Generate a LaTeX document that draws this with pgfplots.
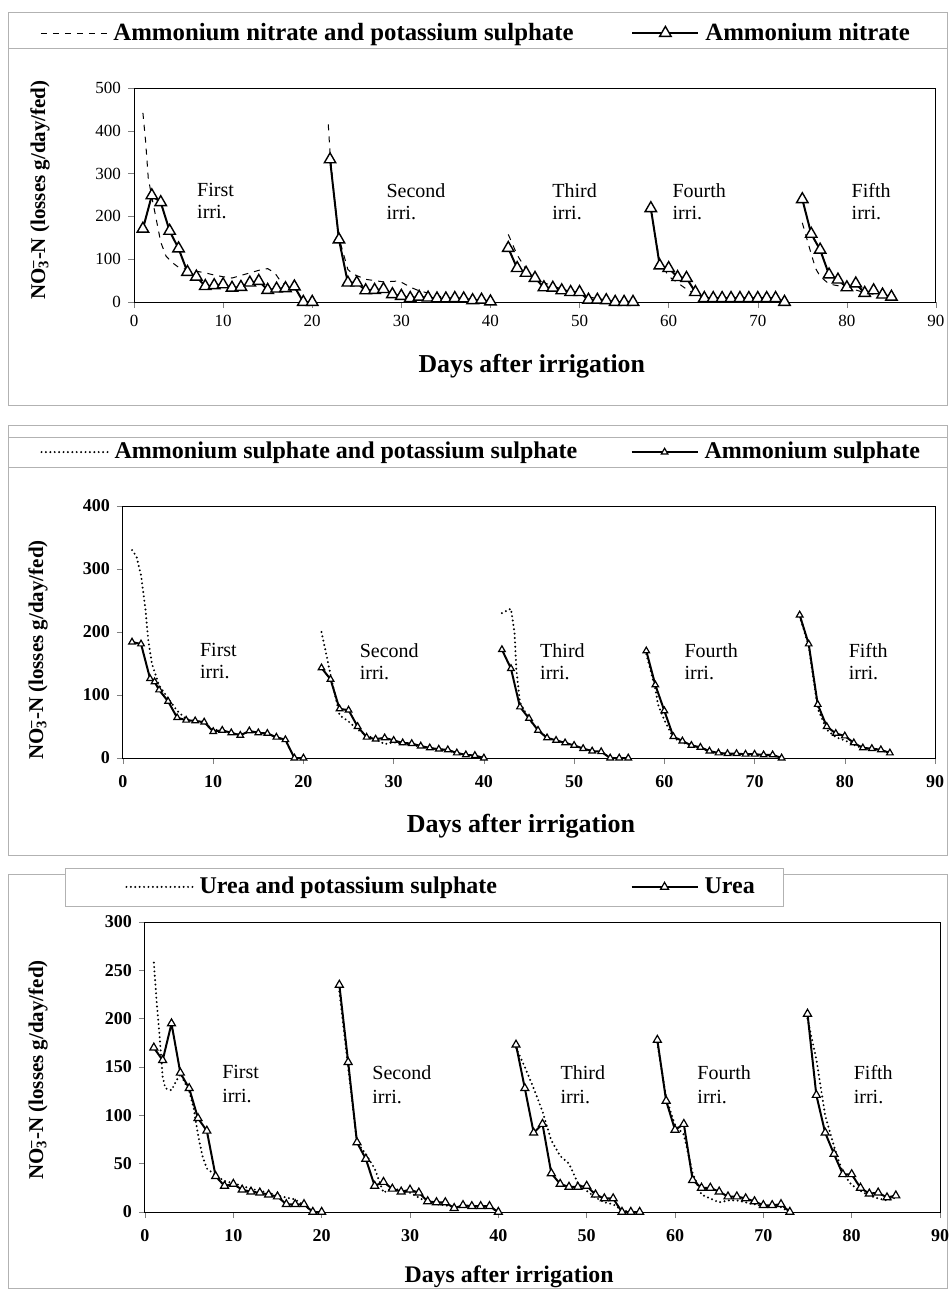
\documentclass[border=0pt]{standalone}
\usepackage{fontspec}
\setmainfont{Liberation Serif}
\usepackage{pgfplots}
\pgfplotsset{compat=1.18}
\pgfplotsset{panel/.style={scale only axis, anchor=south west, xmin=0, xmax=90,
  xtick={0,10,...,90}, tick align=outside, xtick pos=left, ytick pos=left,
  major tick length=3pt, axis line style={line width=0.5pt},
  /pgf/number format/assume math mode=true, unbounded coords=jump, clip=false,
  legend cell align=left,
  legend style={draw=none, fill=none, anchor=west, legend columns=2, inner sep=0pt,
    nodes={inner sep=0pt}, /tikz/every even column/.append style={column sep=0pt}},
  legend image code/.code={\draw[##1, mark repeat=2, mark phase=2] plot coordinates {(0pt,0pt) (16.5pt,0pt) (33pt,0pt)};},
  }}
\tikzset{ann/.style={anchor=north west, align=left, inner sep=0pt, font=\fontsize{10}{11}\selectfont},
  annc/.style={anchor=north west, align=left, inner sep=0pt, font=\fontsize{10}{12}\selectfont}}
\newcommand{\nolabel}{NO\rlap{\textsuperscript{--}}\textsubscript{3}-N (losses g/day/fed)}
\begin{document}
\begin{tikzpicture}
\path[use as bounding box] (0pt,0pt) rectangle (475pt,-645pt);
% panel frames
\draw[gray!60, line width=0.4pt] (4pt,-6pt) rectangle (473.5pt,-202.5pt);
\draw[gray!60, line width=0.4pt] (4pt,-24pt) -- (473.5pt,-24pt);
\draw[gray!60, line width=0.4pt] (4pt,-212.5pt) rectangle (473.5pt,-427.5pt);
\draw[gray!60, line width=0.4pt] (4pt,-218.5pt) -- (473.5pt,-218.5pt);
\draw[gray!60, line width=0.4pt] (4pt,-233.5pt) -- (473.5pt,-233.5pt);
\draw[gray!60, line width=0.4pt] (4pt,-437pt) rectangle (473.5pt,-644pt);
\draw[gray!60, line width=0.4pt, fill=white] (32.5pt,-434pt) rectangle (391.5pt,-453pt);

% ---------------- Panel 1 ----------------
\begin{axis}[panel, at={(67pt,-151pt)}, width=401pt, height=107pt,
  ymin=0, ymax=500, ytick={0,100,...,500},
  tick label style={font=\fontsize{8.5}{10}\selectfont},
  xlabel={Days after irrigation},
  xlabel style={font=\bfseries\fontsize{12.9}{14}\selectfont, at={(axis description cs:0.496,-0.299)}, anchor=center},
  ylabel={\nolabel},
  ylabel style={font=\bfseries\fontsize{10.5}{12}\selectfont, at={(axis description cs:-0.1172,0.523)}, anchor=center},
  legend style={at={(axis description cs:-0.1172,1.257)}, font=\bfseries\fontsize{12.4}{14}\selectfont},
]
\addplot[black, line width=0.5pt, dash pattern=on 3pt off 3pt] coordinates {
(1,442) (1.3,376) (1.6,290) (2,245) (2.5,193) (3,140) (3.6,107) (4.3,92) (5,81) (6,76) (7,72) (8,68) (9,63) (10,59) (11,56) (12,62) (13,68) (14,74) (15,78) (15.8,68) (16.4,50) (17,38) (18,36) (19,0) (20,0)
(21,nan)
(21.8,415) (22,349) (22.5,240) (23,150) (24,76) (24.6,65) (26,53) (28,47) (29.7,49) (30.1,45) (31.2,33) (32,26) (33.6,18) (35,9) (36,8) (37,7) (38,5) (39,4) (40,2)
(41,nan)
(42,158) (43,110) (44,76) (45,60) (46,45) (47,38) (48,30) (49,25) (50,20) (51,12) (52,8) (53,5) (54,3) (55,2) (56,1)
(57,nan)
(58,215) (59,95) (60,60) (61,45) (62,30) (63,18) (64,10) (65,8) (66,7) (67,7) (68,6) (69,6) (70,5) (71,5) (72,4) (73,2)
(74,nan)
(75,185) (76,112) (76.5,78) (77,60) (78,42) (79,38) (80,33) (81,28) (82,22) (83,18) (84,14) (85,12)
};
\addlegendentry{\hspace*{3pt}\makebox[259pt][l]{Ammonium nitrate and potassium sulphate}}
\addplot[black, line width=1pt, mark=triangle*, mark size=3.3pt, mark options={solid, fill=white, line width=0.7pt}] coordinates {
(1,171) (2,249) (3,233) (4,166) (5,125) (6,70) (7,59) (8,37) (9,39) (10,41) (11,33) (12,35) (13,45) (14,49) (15,28) (16,31) (17,32) (18,36) (19,0) (20,0)
(21,nan)
(22,333) (23,146) (24,45) (25,45) (26,27) (27,28) (28,30) (29,18) (30,14) (31,9) (32,12) (33,10) (34,8) (35,8) (36,9) (37,8) (38,4) (39,5) (40,1)
(41,nan)
(42,126) (43,79) (44,68) (45,56) (46,34) (47,33) (48,27) (49,23) (50,23) (51,5) (52,5) (53,4) (54,0) (55,0) (56,0)
(57,nan)
(58,219) (59,85) (60,79) (61,58) (62,56) (63,23) (64,9) (65,9) (66,9) (67,9) (68,9) (69,9) (70,9) (71,9) (72,9) (73,0)
(74,nan)
(75,240) (76,159) (77,122) (78,64) (79,52) (80,34) (81,43) (82,21) (83,27) (84,17) (85,12)
};
\addlegendentry{\hspace*{3pt}Ammonium nitrate}
\node[ann] at (axis cs:7.05,278) {First\\irri.};
\node[ann] at (axis cs:28.3,278) {Second\\irri.};
\node[ann] at (axis cs:46.9,278) {Third\\irri.};
\node[ann] at (axis cs:60.4,278) {Fourth\\irri.};
\node[ann] at (axis cs:80.5,278) {Fifth\\irri.};
\end{axis}

% ---------------- Panel 2 ----------------
\begin{axis}[panel, at={(61.5pt,-379pt)}, width=406pt, height=126pt,
  ymin=0, ymax=400, ytick={0,100,...,400},
  tick label style={font=\bfseries\fontsize{9}{10}\selectfont},
  xticklabel style={yshift=-2pt},
  xlabel={Days after irrigation},
  xlabel style={font=\bfseries\fontsize{13}{14}\selectfont, at={(axis description cs:0.490,-0.270)}, anchor=center},
  ylabel={\nolabel},
  ylabel style={font=\bfseries\fontsize{10.5}{12}\selectfont, at={(axis description cs:-0.1047,0.4286)}, anchor=center},
  legend style={at={(axis description cs:-0.1022,1.214)}, font=\bfseries\fontsize{12}{14}\selectfont},
]
\addplot[black, line width=1.1pt, dash pattern=on 0pt off 2.2pt, line cap=round] coordinates {
(1,330) (1.5,320) (2,290) (2.5,235) (2.8,187) (3.2,150) (4,115) (5,95) (6,75) (7,62) (8,58) (9,56) (10,45) (11,44) (12,40) (13,37) (14,42) (15,40) (16,38) (17,33) (18,28) (19,0) (20,0)
(21,nan)
(22,200) (22.6,160) (23,132) (24,68) (25,58) (26,45) (27,36) (28,30) (29,22) (30,25) (31,22) (32,21) (33,18) (34,15) (35,13) (36,12) (37,8) (38,5) (39,3) (40,0)
(41,nan)
(42,230) (43,237) (43.4,198) (43.6,140) (44,88) (45,62) (46,44) (47,32) (48,28) (49,24) (50,20) (51,15) (52,11) (53,10) (54,0) (55,0) (56,0)
(57,nan)
(58,165) (59,110) (59.3,85) (60,60) (61,32) (62,25) (63,19) (64,16) (65,10) (66,7) (67,6) (68,6) (69,5) (70,5) (71,4) (72,4) (73,0)
(74,nan)
(75,225) (76,178) (77,78) (78,45) (79,33) (80,28) (81,21) (82,15) (83,14) (84,12) (85,9)
};
\addlegendentry{\hspace*{3pt}\makebox[258pt][l]{Ammonium sulphate and potassium sulphate}}
\addplot[black, line width=1pt, mark=triangle*, mark size=1.9pt, mark options={solid, fill=white, line width=0.6pt}] coordinates {
(1,184) (2,181) (3,126) (3.5,121) (4,108) (5,90) (6,64) (7,60) (8,59) (9,57) (10,42) (11,44) (12,40) (13,36) (14,43) (15,40) (16,39) (17,33) (18,29) (19,0) (20,0)
(21,nan)
(22,143) (23,125) (24,78) (25,76) (26,50) (27,33) (28,30) (29,32) (30,28) (31,24) (32,23) (33,19) (34,16) (35,14) (36,13) (37,8) (38,5) (39,4) (40,0)
(41,nan)
(42,172) (43,142) (44,81) (45,63) (46,44) (47,32) (48,28) (49,24) (50,20) (51,15) (52,11) (53,10) (54,0) (55,0) (56,0)
(57,nan)
(58,170) (59,116) (60,75) (61,34) (62,27) (63,20) (64,17) (65,11) (66,8) (67,7) (68,7) (69,6) (70,6) (71,5) (72,5) (73,0)
(74,nan)
(75,227) (76,181) (77,85) (78,50) (79,39) (80,35) (81,24) (82,16) (83,15) (84,13) (85,8)
};
\addlegendentry{\hspace*{3pt}Ammonium sulphate}
\node[ann] at (axis cs:8.5,182.5) {First\\irri.};
\node[ann] at (axis cs:26.2,182.5) {Second\\irri.};
\node[ann] at (axis cs:46.2,182.5) {Third\\irri.};
\node[ann] at (axis cs:62.2,182.5) {Fourth\\irri.};
\node[ann] at (axis cs:80.4,182.5) {Fifth\\irri.};
\end{axis}

% ---------------- Panel 3 ----------------
\begin{axis}[panel, at={(72.5pt,-606pt)}, width=397.5pt, height=145pt,
  ymin=0, ymax=300, ytick={0,50,...,300},
  tick label style={font=\bfseries\fontsize{9}{10}\selectfont},
  xticklabel style={yshift=-2pt},
  xlabel={Days after irrigation},
  xlabel style={font=\bfseries\fontsize{11.9}{14}\selectfont, at={(axis description cs:0.458,-0.224)}, anchor=center},
  ylabel={\nolabel},
  ylabel style={font=\bfseries\fontsize{10.5}{12}\selectfont, at={(axis description cs:-0.1346,0.49)}, anchor=center},
  legend style={at={(axis description cs:-0.0252,1.121)}, font=\bfseries\fontsize{12}{14}\selectfont},
]
\addplot[black, line width=1.1pt, dash pattern=on 0pt off 2.2pt, line cap=round] coordinates {
(1,258) (1.3,220) (1.6,188) (2,140) (2.3,128) (3,126) (3.5,135) (4,143) (5,125) (5.5,108) (6,80) (6.5,58) (7,45) (8,38) (9,32) (10,30) (11,27) (12,24) (13,22) (14,20) (15,17) (16,15) (17,13) (18,7) (19,0) (20,0)
(21,nan)
(22,228) (23,150) (24,72) (25,60) (26,45) (27,20) (28,25) (29,22) (30,20) (31,15) (32,10) (33,8) (34,7) (35,5) (36,5) (37,6) (38,6) (39,5) (40,0)
(41,nan)
(42,170) (43,150) (44,128) (45,104) (46,74) (47,58) (48,50) (49,30) (50,22) (51,15) (52,10) (53,8) (54,2) (55,0) (56,0)
(57,nan)
(58,175) (59,118) (60,90) (61,80) (62,40) (63,18) (64,14) (65,10) (66,12) (67,12) (68,10) (69,8) (70,6) (71,6) (72,5) (73,0)
(74,nan)
(75,200) (76,158) (77,100) (78,68) (79,40) (80,28) (81,22) (82,17) (83,14) (84,12) (85,15)
};
\addlegendentry{\hspace*{3pt}\makebox[215.5pt][l]{Urea and potassium sulphate}}
\addplot[black, line width=1pt, mark=triangle*, mark size=2.3pt, mark options={solid, fill=white, line width=0.6pt}] coordinates {
(1,170) (2,157) (3,195) (4,144) (5,128) (6,97) (7,84) (8,37) (9,27) (10,29) (11,23) (12,21) (13,20) (14,18) (15,16) (16,8) (17,8) (18,8) (19,0) (20,0)
(21,nan)
(22,235) (23,155) (24,72) (25,55) (26,27) (27,31) (28,24) (29,21) (30,23) (31,20) (32,11) (33,10) (34,10) (35,4) (36,7) (37,6) (38,6) (39,6) (40,0)
(41,nan)
(42,173) (43,128) (44,82) (45,91) (46,40) (47,29) (48,26) (49,26) (50,27) (51,18) (52,14) (53,14) (54,0) (55,0) (56,0)
(57,nan)
(58,178) (59,115) (60,85) (61,91) (62,33) (63,25) (64,25) (65,21) (66,16) (67,16) (68,14) (69,11) (70,7) (71,7) (72,8) (73,0)
(74,nan)
(75,205) (76,121) (77,82) (78,60) (79,39) (80,39) (81,25) (82,19) (83,20) (84,15) (85,17)
};
\addlegendentry{\hspace*{3pt}Urea}
\node[annc] at (axis cs:8.7,152) {First\\irri.};
\node[annc] at (axis cs:25.7,152) {Second\\irri.};
\node[annc] at (axis cs:47.0,152) {Third\\irri.};
\node[annc] at (axis cs:62.5,152) {Fourth\\irri.};
\node[annc] at (axis cs:80.2,152) {Fifth\\irri.};
\end{axis}
\end{tikzpicture}
\end{document}
